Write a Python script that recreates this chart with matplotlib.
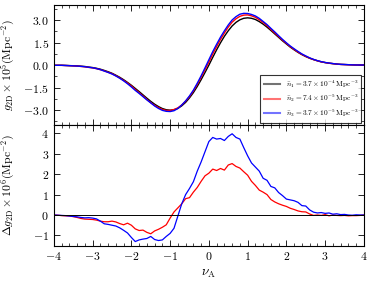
import numpy as np
import matplotlib
matplotlib.use("Agg")
import matplotlib.pyplot as plt
from matplotlib.ticker import MultipleLocator

plt.rcParams['font.family'] = 'serif'
plt.rcParams['font.serif'] = ['cmr10']
plt.rcParams['mathtext.fontset'] = 'cm'
plt.rcParams['axes.formatter.use_mathtext'] = True
plt.rcParams['axes.unicode_minus'] = True

# threshold nu_A, -4 .. 4 in steps of 0.1
nu = np.round(np.arange(-40, 41) / 10.0, 1)

# g_2D x 10^5 for n1 (black curve)
g_n1 = [-0.01, -0.01, -0.01, -0.02, -0.03, -0.04, -0.05, -0.07, -0.09, -0.13,
        -0.16, -0.21, -0.27, -0.35, -0.44, -0.54, -0.67, -0.81, -0.97, -1.15,
        -1.34, -1.55, -1.76, -1.98, -2.20, -2.41, -2.60, -2.76, -2.89, -2.97,
        -3.00, -2.97, -2.88, -2.71, -2.48, -2.18, -1.83, -1.42, -0.97, -0.49,
        0.00,
        0.52, 1.02, 1.49, 1.92, 2.29, 2.61, 2.85, 3.02, 3.12, 3.15,
        3.12, 3.04, 2.90, 2.73, 2.53, 2.31, 2.08, 1.85, 1.62, 1.41,
        1.20, 1.02, 0.85, 0.70, 0.57, 0.46, 0.37, 0.29, 0.22, 0.17,
        0.13, 0.10, 0.07, 0.05, 0.04, 0.03, 0.02, 0.01, 0.01, 0.01]

# Delta g_2D x 10^6 (n2 - n1, red) and (n3 - n1, blue)
dg_n2 = [0.00, -0.01, -0.03, -0.04, -0.05, -0.08, -0.12, -0.17, -0.20, -0.21,
         -0.22, -0.25, -0.30, -0.33, -0.33, -0.30, -0.34, -0.42, -0.48, -0.40,
         -0.50, -0.68, -0.76, -0.74, -0.85, -0.92, -0.78, -0.70, -0.60, -0.48,
         -0.15, 0.15, 0.35, 0.55, 0.80, 0.85, 1.12, 1.35, 1.65, 1.92,
         2.05,
         2.25, 2.18, 2.28, 2.20, 2.45, 2.52, 2.38, 2.30, 2.12, 1.95,
         1.65, 1.45, 1.22, 1.12, 1.00, 0.76, 0.64, 0.55, 0.48, 0.42,
         0.33, 0.27, 0.20, 0.16, 0.15, 0.05, -0.02, 0.00, -0.02, 0.02,
         -0.04, 0.00, -0.02, -0.03, -0.02, -0.04, -0.03, -0.03, -0.02, 0.00]

dg_n3 = [0.00, -0.01, -0.02, -0.03, -0.05, -0.07, -0.09, -0.12, -0.14, -0.13,
         -0.15, -0.19, -0.30, -0.43, -0.46, -0.50, -0.54, -0.63, -0.75, -0.88,
         -1.10, -1.30, -1.22, -1.18, -1.15, -1.05, -1.20, -1.25, -1.22, -1.05,
         -0.90, -0.65, -0.05, 0.55, 1.00, 1.30, 1.63, 2.15, 2.60, 3.10,
         3.60,
         3.80, 3.72, 3.75, 3.65, 3.85, 3.98, 3.80, 3.72, 3.30, 2.90,
         2.55, 2.35, 2.15, 1.80, 1.70, 1.40, 1.33, 1.10, 0.95, 0.78,
         0.74, 0.70, 0.62, 0.46, 0.44, 0.25, 0.14, 0.10, 0.12, 0.08,
         0.10, 0.04, 0.06, 0.02, 0.03, 0.00, -0.01, 0.01, 0.00, 0.00]

labels = [r'$\bar{n}_1 = 3.7 \times 10^{-4}\,\mathrm{Mpc}^{-3}$',
          r'$\bar{n}_2 = 7.4 \times 10^{-5}\,\mathrm{Mpc}^{-3}$',
          r'$\bar{n}_3 = 3.7 \times 10^{-5}\,\mathrm{Mpc}^{-3}$']

g1 = np.array(g_n1)
d2 = np.array(dg_n2)
d3 = np.array(dg_n3)
# Delta g is in units of 1e-6, top panel in 1e-5
g2 = g1 + d2 / 10.0
g3 = g1 + d3 / 10.0

fig = plt.figure(figsize=(3.74, 2.82), dpi=100)
ax1 = fig.add_axes([0.144, 0.556, 0.829, 0.426])
ax2 = fig.add_axes([0.144, 0.129, 0.829, 0.427], sharex=ax1)

ax1.plot(nu, g1, color='k', lw=1.0, label=labels[0])
ax1.plot(nu, g2, color='r', lw=1.0, label=labels[1])
ax1.plot(nu, g3, color='b', lw=1.0, label=labels[2])
ax1.set_ylim(-4.0, 4.0)
ax1.set_yticks([-3.0, -1.5, 0.0, 1.5, 3.0])
ax1.yaxis.set_minor_locator(MultipleLocator(0.75))
ax1.set_ylabel(r'$g_{\rm 2D}\times10^5({\rm Mpc}^{-2})$', fontsize=8.5)
leg = ax1.legend(loc='lower right', fontsize=5.3, fancybox=False,
                 handlelength=2.2, borderpad=0.45, labelspacing=0.45,
                 borderaxespad=0.35)
leg.get_frame().set_edgecolor('k')
leg.get_frame().set_linewidth(0.8)
for h in leg.get_lines():
    h.set_linewidth(1.5)
    h.set_alpha(0.55)
plt.setp(ax1.get_xticklabels(), visible=False)

ax2.plot(nu, d2, color='r', lw=0.9)
ax2.plot(nu, d3, color='b', lw=0.9)
ax2.axhline(0, color='k', lw=0.7)
ax2.set_ylim(-1.5, 4.4)
ax2.set_yticks([-1, 0, 1, 2, 3, 4])
ax2.set_xlim(-4, 4)
ax2.set_xticks([-4, -3, -2, -1, 0, 1, 2, 3, 4])
ax2.xaxis.set_minor_locator(MultipleLocator(0.2))
ax2.set_xlabel(r'$\nu_{\rm A}$', fontsize=9.5)
ax2.set_ylabel(r'$\Delta g_{\rm 2D}\times10^6({\rm Mpc}^{-2})$', fontsize=8.5)

for ax in (ax1, ax2):
    ax.tick_params(which='both', direction='in', top=True, right=True,
                   labelsize=8.5)
    ax.tick_params(which='major', length=4, width=0.6)
    ax.tick_params(which='minor', length=2, width=0.5)
    for s in ax.spines.values():
        s.set_linewidth(0.8)

ax1.yaxis.set_label_coords(-0.118, 0.5)
ax2.yaxis.set_label_coords(-0.118, 0.5)

fig.savefig('out.png', dpi=100)
